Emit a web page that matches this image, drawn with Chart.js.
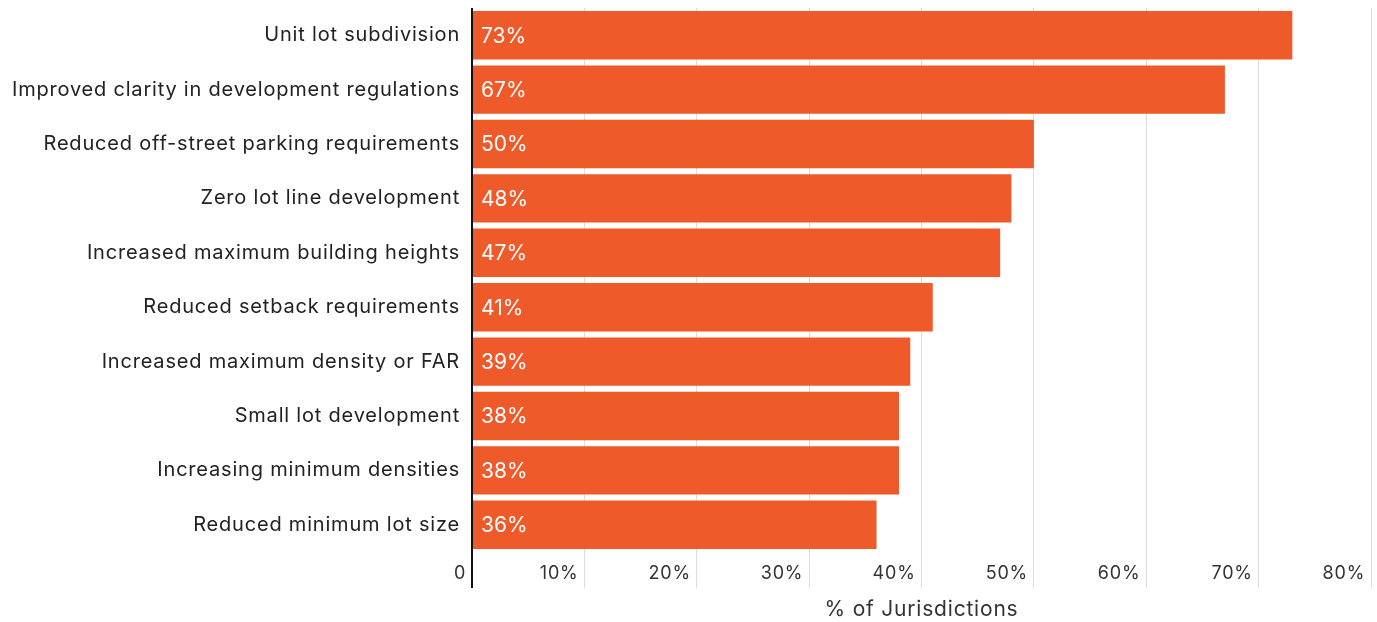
<!DOCTYPE html>
<html>
<head>
<meta charset="utf-8">
<script src="https://cdn.jsdelivr.net/npm/chart.js@4"></script>
<style>
  html, body { margin: 0; padding: 0; background: #fff; }
  #wrap { width: 1377px; height: 622px; position: relative; }
</style>
</head>
<body>
<div id="wrap"><canvas id="toolsChart"></canvas></div>
<script>
// zoning tools, share of jurisdictions using each
const categories = [
    'Unit lot subdivision',
    'Improved clarity in development regulations',
    'Reduced off-street parking requirements',
    'Zero lot line development',
    'Increased maximum building heights',
    'Reduced setback requirements',
    'Increased maximum density or FAR',
    'Small lot development',
    'Increasing minimum densities',
    'Reduced minimum lot size'
];
const shares = [73, 67, 50, 48, 47, 41, 39, 38, 38, 36];
const xTicks = [0, 10, 20, 30, 40, 50, 60, 70, 80];

const FONT = 'Inter, "Noto Sans", sans-serif';
const ORANGE = '#ef5a2a';

// slightly looser tracking for all canvas text (reset whenever the canvas resizes)
const textTracking = {
    id: 'textTracking',
    beforeLayout(chart) { chart.ctx.letterSpacing = '0.8px'; },
    beforeDraw(chart) { chart.ctx.letterSpacing = '0.8px'; }
};

// percentage text drawn inside the left end of each bar
const barValueLabels = {
    id: 'barValueLabels',
    afterDatasetsDraw(chart) {
        const ctx = chart.ctx;
        const meta = chart.getDatasetMeta(0);
        ctx.save();
        ctx.letterSpacing = '0px';
        ctx.font = '400 21px ' + FONT;
        ctx.fillStyle = '#ffffff';
        ctx.textAlign = 'left';
        ctx.textBaseline = 'middle';
        meta.data.forEach((bar, i) => {
            ctx.fillText(shares[i] + '%', bar.base + 8, bar.y + 1);
        });
        ctx.restore();
    }
};

const ctx = document.getElementById('toolsChart').getContext('2d');
new Chart(ctx, {
    type: 'bar',
    data: {
        labels: categories,
        datasets: [{
            data: shares,
            backgroundColor: ORANGE,
            borderWidth: 0,
            barPercentage: 1,
            categoryPercentage: 0.89
        }]
    },
    plugins: [textTracking, barValueLabels],
    options: {
        indexAxis: 'y',
        responsive: true,
        maintainAspectRatio: false,
        animation: false,
        layout: { padding: { top: 8, right: 6, bottom: 0, left: 0 } },
        plugins: {
            legend: { display: false },
            tooltip: { enabled: false }
        },
        scales: {
            x: {
                min: 0,
                max: 80,
                afterBuildTicks(scale) {
                    scale.ticks = xTicks.map(v => ({ value: v }));
                },
                afterFit(scale) { scale.height = 70; },
                border: { display: false },
                grid: {
                    color: c => (c.tick && c.tick.value === 0) ? '#111111' : '#dcdcdc',
                    lineWidth: c => (c.tick && c.tick.value === 0) ? 2 : 1,
                    drawTicks: true,
                    tickLength: 36
                },
                ticks: {
                    align: 'end',
                    padding: -25,
                    maxRotation: 0,
                    color: '#333333',
                    font: { family: FONT, size: 18 },
                    callback: v => (v === 0 ? '0' : v + '%') + ' '
                },
                title: {
                    display: true,
                    text: '% of Jurisdictions',
                    color: '#333333',
                    font: { family: FONT, size: 21 },
                    padding: { top: 0, bottom: 0 }
                }
            },
            y: {
                afterFit(scale) {
                    scale.width = 472;
                    scale.paddingTop = 0;
                    scale.paddingBottom = 0;
                },
                border: { display: false },
                grid: { display: false, drawTicks: false },
                ticks: {
                    padding: 12,
                    color: '#222222',
                    font: { family: FONT, size: 20 }
                }
            }
        }
    }
});
</script>
</body>
</html>
